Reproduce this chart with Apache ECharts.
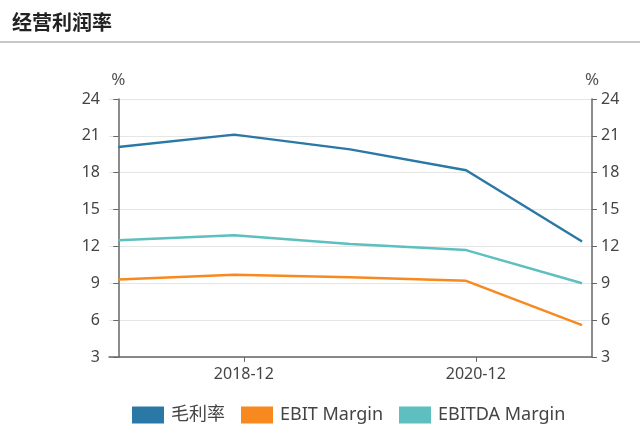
<!DOCTYPE html>
<html><head><meta charset="utf-8">
<script src="https://cdn.jsdelivr.net/npm/echarts@6/dist/echarts.min.js"></script>
<style>html,body{margin:0;padding:0;background:#fff;}#c{width:640px;height:447px;}</style>
</head><body><div id="c"></div>
<script>
// months since 2017-12 for each period
const periods = ['2017-12', '2018-12', '2019-12', '2020-12', '2021-12'];
const periodMonths = [0, 12, 24, 36, 48];
const tickLabels = ['2018-12', '2020-12'];
const tickMonths = [13, 37];
const grossMargin = [20.1, 21.1, 19.9, 18.2, 12.4];
const ebitMargin = [9.3, 9.7, 9.5, 9.2, 5.6];
const ebitdaMargin = [12.5, 12.9, 12.2, 11.7, 9.0];
const yTicks = [3, 6, 9, 12, 15, 18, 21, 24];

const chart = echarts.init(document.getElementById('c'));
const font = "'Noto Sans', 'Noto Sans CJK SC', sans-serif";
const pair = arr => periodMonths.map((m, i) => [m, arr[i]]);
const yAxisBase = pos => ({
  type: 'value', position: pos, min: yTicks[0], max: yTicks[yTicks.length - 1], interval: 3,
  name: '%', nameGap: 10, nameTextStyle: {color: '#555', fontSize: 17, fontFamily: font, align: 'center'},
  axisLine: {show: true, lineStyle: {color: '#666', width: 1.5}},
  axisTick: {show: true, length: 5, lineStyle: {color: '#666'}},
  axisLabel: {color: '#444', fontSize: 16, fontFamily: font, margin: 9},
  splitLine: {show: pos === 'left', lineStyle: {color: '#e6e6e6', width: 1.2}}
});
chart.setOption({
  animation: false,
  title: {text: '经营利润率', left: 7, top: 9, textStyle: {fontSize: 20, fontWeight: 'bold', color: '#222', fontFamily: font}},
  graphic: [{type: 'line', shape: {x1: 0, y1: 42, x2: 640, y2: 42}, style: {stroke: '#c8c8c8', lineWidth: 2}}],
  grid: {left: 109, right: 48, top: 99, bottom: 90},
  legend: {
    top: 401, left: 127, itemWidth: 32, itemHeight: 17, itemGap: 16,
    icon: 'rect', textStyle: {fontSize: 18, color: '#444', fontFamily: font, padding: [0, 0, 0, 2]}
  },
  xAxis: {
    type: 'value', min: -0.96, max: 49.03,
    axisLine: {show: true, lineStyle: {color: '#666', width: 1.5}},
    axisTick: {show: true, length: 5, lineStyle: {color: '#666'}, customValues: tickMonths},
    axisLabel: {color: '#444', fontSize: 16, fontFamily: font, margin: 9, customValues: tickMonths,
      formatter: v => tickLabels[tickMonths.indexOf(v)] || ''},
    splitLine: {show: false}
  },
  yAxis: [yAxisBase('left'), yAxisBase('right')],
  series: [
    {name: '毛利率', type: 'line', data: pair(grossMargin), showSymbol: false, symbol: 'none', lineStyle: {width: 2.5}, color: '#2a78a5'},
    {name: 'EBIT Margin', type: 'line', data: pair(ebitMargin), showSymbol: false, symbol: 'none', lineStyle: {width: 2.5}, color: '#f7891f'},
    {name: 'EBITDA Margin', type: 'line', data: pair(ebitdaMargin), showSymbol: false, symbol: 'none', lineStyle: {width: 2.5}, color: '#5dbfbf'}
  ]
});
</script></body></html>
